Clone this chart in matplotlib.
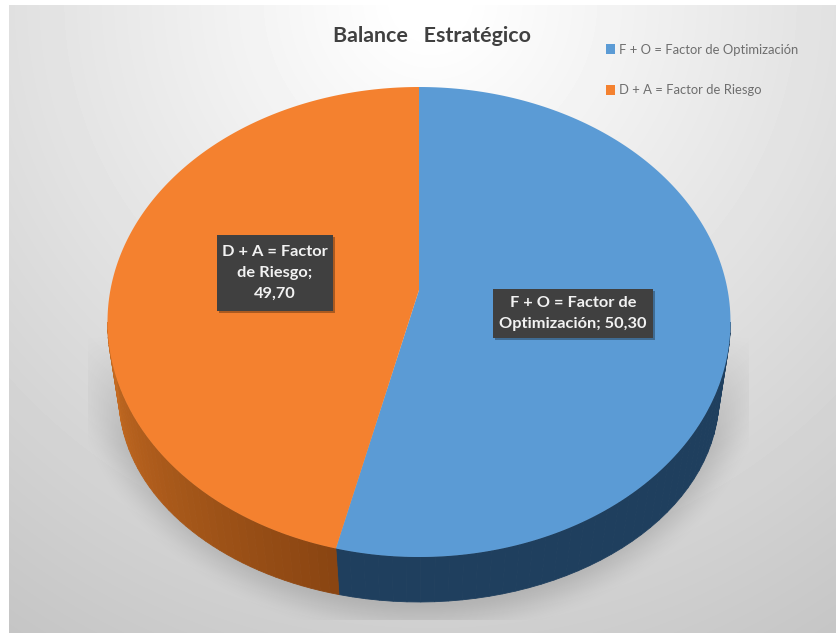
import numpy as np
import matplotlib
matplotlib.use("Agg")
import matplotlib.pyplot as plt
from matplotlib.patches import Rectangle

# Chart data
categories = ["F + O = Factor de Optimización", "D + A = Factor de Riesgo"]
values = [50.30, 49.70]
label_lines = ["F + O = Factor de\nOptimización; 50,30", "D + A = Factor\nde Riesgo;\n49,70"]
title_text = "Balance   Estratégico"

# Geometry of the tilted disc, in canvas pixels
W, H = 836, 633
CX, CY, RX, RY = 419, 322, 311.5, 235      # top rim
HUB = (419, 290)                           # where the slices meet on the tilted face
BX, BY, BRX, BRY = 419, 397, 300, 205      # lower edge of the wall
SKEW_DEG = 14.4                            # view distortion of rim angles

TOP_COLORS = ["#5B9BD5", "#F4812F"]
WALL_COLORS = [("#1F3F5E", "#1F3F5E"), ("#8A4512", "#C66C22")]


def view_angle(a):
    """Rim angle (deg, clockwise from top) after the 3D view distortion."""
    return a + SKEW_DEG * np.sin(np.radians(a) / 2) ** 2


def rim(a):
    r = np.radians(a)
    return CX + RX * np.sin(r), CY - RY * np.cos(r)


def wall_edge(a):
    r = np.radians(a)
    return BX + BRX * np.sin(r), BY - BRY * np.cos(r)


def mix(c1, c2, t):
    a, b = np.array(matplotlib.colors.to_rgb(c1)), np.array(matplotlib.colors.to_rgb(c2))
    return tuple(a + (b - a) * t)


fig = plt.figure(figsize=(W / 100, H / 100), dpi=100, facecolor="white")
ax = fig.add_axes([0, 0, 1, 1])

# Panel background: soft radial fade from the top centre
yy, xx = np.mgrid[5:H, 9:W]
dist = np.hypot(xx - 430, yy - 0)
shade = 255 - np.clip(0.08 * (dist - 30), 0, 70)
ax.imshow(shade, cmap="gray", vmin=0, vmax=255, extent=(9, W, H, 5), zorder=0, aspect="auto")

# Drop shadow under the disc, cut off by its rectangular bounds at the bottom and sides
yy, xx = np.mgrid[320:621, 88:749]
q = np.hypot((xx - 419) / 335, (yy - 345) / 280)
fade = np.clip((1.06 - q) / 0.16, 0, 1)
fade = fade * fade * (3 - 2 * fade)
rise = np.clip((yy - 335) / 110, 0, 1)
shadow = np.zeros(q.shape + (4,))
shadow[..., :3] = 0.42
shadow[..., 3] = 0.32 * fade * rise
ax.imshow(shadow, extent=(88, 749, 620, 320), zorder=1, aspect="auto")

# Slice boundaries from the values, clockwise from the top
cum = np.cumsum([0] + values) / sum(values) * 360
edges = view_angle(cum)

# Wall: only the part of each slice on the near side of the disc
for i in range(len(values)):
    start, stop = max(edges[i], 90), min(edges[i + 1], 270)
    if stop <= start:
        continue
    steps = np.linspace(start, stop, 41)
    for s0, s1 in zip(steps[:-1], steps[1:]):
        t = (s0 - start) / (stop - start)
        arc = np.array([s0, s1])
        tx, ty = rim(arc)
        bx, by = wall_edge(arc[::-1])
        col = mix(WALL_COLORS[i][0], WALL_COLORS[i][1], t)
        ax.fill(np.r_[tx, bx], np.r_[ty, by], color=col, lw=0.6, zorder=2)

# Top face
for i in range(len(values)):
    arc = np.linspace(edges[i], edges[i + 1], 200)
    x, y = rim(arc)
    ax.fill(np.r_[HUB[0], x], np.r_[HUB[1], y], color=TOP_COLORS[i], lw=0, zorder=3)

# Data labels
boxes = [(493, 289, 160, 49), (217, 235, 116, 76)]
for (bx0, by0, bw, bh), txt in zip(boxes, label_lines):
    ax.add_patch(Rectangle((bx0 + 2, by0 + 2), bw, bh, fc="black", alpha=0.3, lw=0, zorder=4))
    ax.add_patch(Rectangle((bx0, by0), bw, bh, fc="#404040", lw=0, zorder=5))
    ax.text(bx0 + bw / 2, by0 + bh / 2, txt, color="#F2F2F2", family="Lato", weight="bold",
            fontsize=11.8, ha="center", va="center", linespacing=1.62, zorder=6)

ax.text(432, 36, title_text, color="#404040", family="Lato", weight="bold",
        fontsize=15.4, ha="center", va="center", zorder=6)

handles = [Rectangle((0, 0), 1, 1, fc=c, lw=0) for c in TOP_COLORS]
leg = ax.legend(handles, categories, loc="upper left", bbox_to_anchor=(603 / W, 1 - 41 / H),
                frameon=False, prop={"family": "Lato", "size": 9.4}, labelcolor="#6E6E6E",
                handlelength=0.75, handleheight=0.75, handletextpad=0.3,
                labelspacing=2.2, borderpad=0.2, borderaxespad=0)
leg.set_zorder(7)

ax.set_xlim(0, W)
ax.set_ylim(H, 0)
ax.axis("off")

fig.savefig("out.png", dpi=100, facecolor="white")
